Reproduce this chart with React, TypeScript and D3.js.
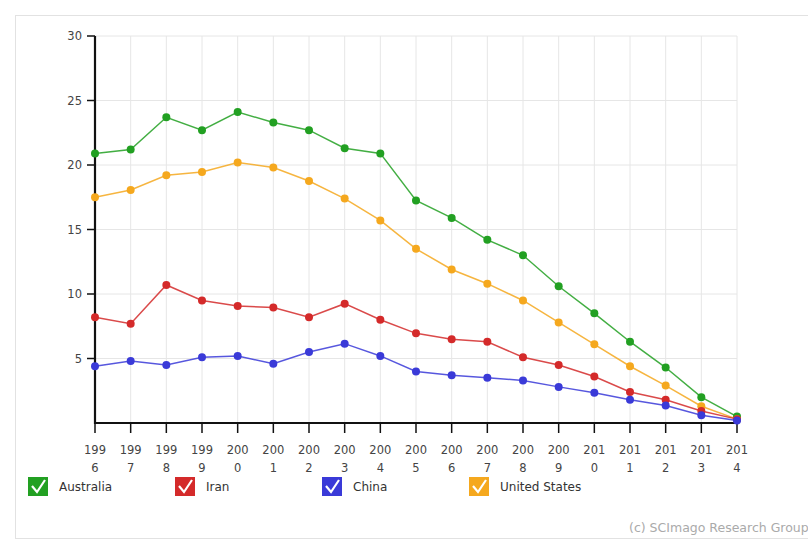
import React from "react";
import * as d3 from "d3";

const years = [1996, 1997, 1998, 1999, 2000, 2001, 2002, 2003, 2004, 2005, 2006, 2007, 2008, 2009, 2010, 2011, 2012, 2013, 2014];
const australia = [20.9, 21.2, 23.7, 22.7, 24.1, 23.3, 22.7, 21.3, 20.9, 17.25, 15.9, 14.2, 13.0, 10.6, 8.5, 6.3, 4.3, 2.0, 0.5];
const iran = [8.2, 7.7, 10.7, 9.5, 9.07, 8.95, 8.2, 9.25, 8.0, 6.95, 6.5, 6.3, 5.1, 4.5, 3.6, 2.4, 1.8, 0.93, 0.3];
const china = [4.4, 4.8, 4.5, 5.1, 5.2, 4.6, 5.5, 6.15, 5.2, 4.0, 3.7, 3.5, 3.3, 2.8, 2.35, 1.8, 1.35, 0.6, 0.2];
const unitedStates = [17.5, 18.06, 19.2, 19.46, 20.2, 19.8, 18.76, 17.4, 15.7, 13.5, 11.9, 10.8, 9.5, 7.8, 6.1, 4.4, 2.9, 1.3, 0.3];
const yTicks = [5, 10, 15, 20, 25, 30];

const seriesNames = ["Australia", "Iran", "China", "United States"];
const seriesColors = ["#22a022", "#d42a2a", "#3a3ad8", "#f5a81e"];
const seriesValues = [australia, iran, china, unitedStates];
const drawOrder = [0, 3, 1, 2];
const legendX = [28, 175, 322, 469];

export default function App() {
  const W = 808, H = 541;
  const x = d3.scaleLinear().domain([1996, 2014]).range([95, 737]);
  const y = d3.scaleLinear().domain([0, 30]).range([423, 36]);
  const line = d3.line<number>().x((_, i) => x(years[i])).y((v) => y(v));
  const font = "'DejaVu Sans', Verdana, sans-serif";

  return (
    <svg width={W} height={H} style={{ position: "absolute", left: 0, top: 0, background: "#fff" }} fontFamily={font}>
      <rect x={15.5} y={15.5} width={W} height={523} fill="none" stroke="#e2e2e2" />
      {/* grid */}
      {yTicks.map((t) => (
        <line key={"hg" + t} x1={95} x2={737} y1={y(t)} y2={y(t)} stroke="#e6e6e6" strokeWidth={1} />
      ))}
      {years.map((yr) => (
        <line key={"vg" + yr} x1={x(yr)} x2={x(yr)} y1={36} y2={423} stroke="#e6e6e6" strokeWidth={1} />
      ))}
      {/* y axis */}
      <line x1={95} x2={95} y1={36} y2={424} stroke="#111" strokeWidth={2.2} />
      {yTicks.map((t) => (
        <g key={"yt" + t}>
          <line x1={87} x2={95} y1={y(t)} y2={y(t)} stroke="#111" strokeWidth={1.5} />
          <text x={82} y={y(t)} dy="0.35em" textAnchor="end" fontSize={11.5} fill="#444">{t}</text>
        </g>
      ))}
      {/* x axis */}
      <line x1={94} x2={738} y1={423} y2={423} stroke="#111" strokeWidth={2.2} />
      {years.map((yr) => {
        const s = String(yr);
        return (
          <g key={"xt" + yr}>
            <line x1={x(yr)} x2={x(yr)} y1={423} y2={433} stroke="#111" strokeWidth={1.5} />
            <text x={x(yr)} y={454} textAnchor="middle" fontSize={11.5} fill="#444">{s.slice(0, 3)}</text>
            <text x={x(yr)} y={472} textAnchor="middle" fontSize={11.5} fill="#444">{s.slice(3)}</text>
          </g>
        );
      })}
      {/* series */}
      {drawOrder.map((si) => (
        <g key={"s" + si}>
          <path d={line(seriesValues[si]) || ""} fill="none" stroke={seriesColors[si]} strokeWidth={1.5} strokeOpacity={0.85} />
          {seriesValues[si].map((v, i) => (
            <circle key={i} cx={x(years[i])} cy={y(v)} r={4} fill={seriesColors[si]} />
          ))}
        </g>
      ))}
      {/* legend */}
      {seriesNames.map((n, i) => (
        <g key={"lg" + n} transform={`translate(${legendX[i]},477)`}>
          <rect x={0} y={0} width={20} height={19} fill={seriesColors[i]} />
          <path d="M4 9 L9 15 L17 3" fill="none" stroke="#fff" strokeWidth={2.2} />
          <text x={31} y={10} dy="0.35em" fontSize={12} fill="#333">{n}</text>
        </g>
      ))}
      <text x={629} y={532} fontSize={12.5} fill="#aaa">(c) SCImago Research Group</text>
    </svg>
  );
}
